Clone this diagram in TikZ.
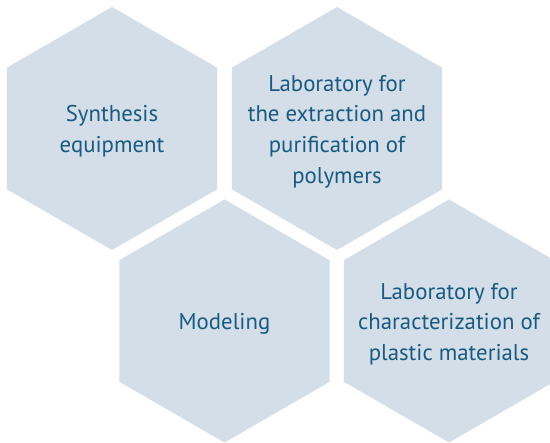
\documentclass[tikz,border=0pt]{standalone}
\usepackage{fontspec}
\setmainfont{PT Sans}
\usetikzlibrary{shapes.geometric}
\definecolor{hexfill}{HTML}{D3DEE8}
\definecolor{hextext}{HTML}{185A80}
\tikzset{
  hexa/.style={regular polygon, regular polygon sides=6, shape border rotate=30,
    minimum size=243pt, inner sep=0pt, outer sep=0pt, fill=hexfill, draw=none},
  hexlabel/.style={align=center, text=hextext, inner sep=0pt,
    font=\fontsize{22.8}{30.7}\selectfont}
}
\begin{document}
\begin{tikzpicture}[x=1pt,y=-1pt]
\useasboundingbox (0,0) rectangle (550,443);
\begin{scope}
\clip (0,0) rectangle (550,443);
\node[hexa] (h1) at (112,128.5) {};
\node[hexa] (h2) at (337,128.5) {};
\node[hexa] (h3) at (224.5,321) {};
\node[hexa] (h4) at (449,321) {};
\end{scope}
\node[hexlabel] (t1) at ([yshift=-3pt]h1.center) {Synthesis\\equipment};
\node[hexlabel] (t2) at ([yshift=-3pt]h2.center) {Laboratory for\\the extraction and\\purification of\\polymers};
\node[hexlabel] (t3) at ([yshift=-3pt]h3.center) {Modeling};
\node[hexlabel] (t4) at ([yshift=-3pt]h4.center) {Laboratory for\\characterization of\\plastic materials};
\end{tikzpicture}
\end{document}
